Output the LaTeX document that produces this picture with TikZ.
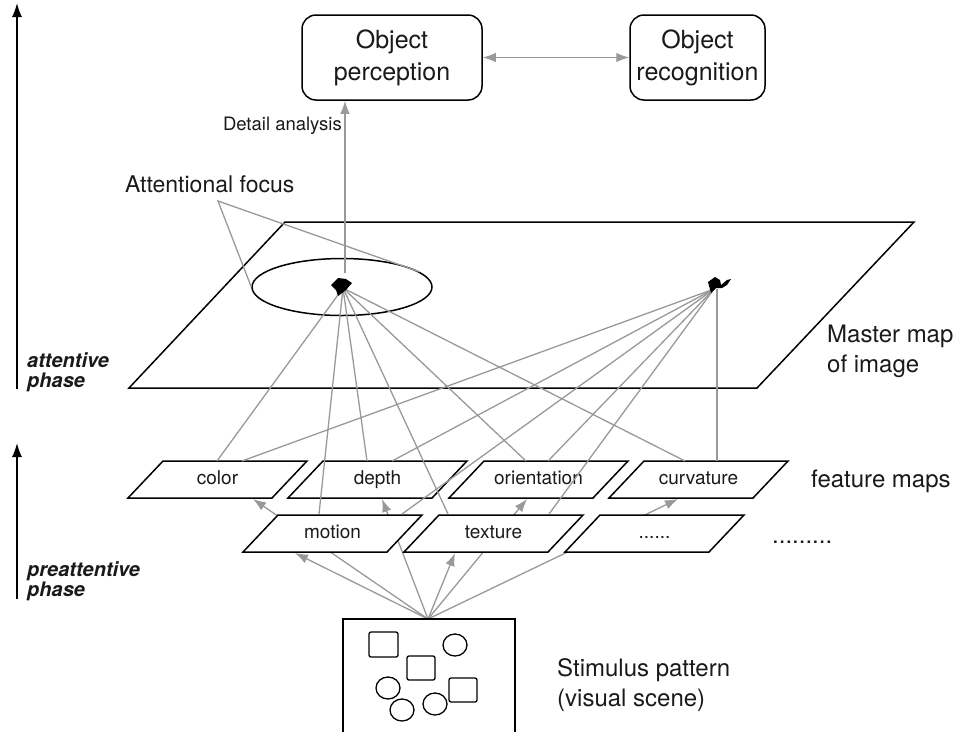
\documentclass[tikz,border=0pt]{standalone}
\usepackage{fontspec}
\setmainfont{TeX Gyre Heros}
\usetikzlibrary{arrows.meta,calc,shapes.geometric}
\definecolor{lgray}{HTML}{999999}
\definecolor{ink}{HTML}{1A1A1A}
\newcommand\fmapbox[4]{%
  \draw[boxline] (#2,#3) -- ++(144,0) -- ++(35,-37) -- ++(-144,0) -- cycle;
  \node[fmlabel] (#1) at (#2+89.5,#3-18.5) {#4};
}
\begin{document}
\begin{tikzpicture}[x=1pt,y=-1pt,
  gline/.style={draw=lgray,line width=1.3pt},
  gtip/.style={-{Latex[length=13pt,width=9.5pt]}},
  boxline/.style={draw=black,line width=1.5pt,fill=white,line join=miter},
  fmlabel/.style={font=\fontsize{19}{22}\selectfont,text=ink,inner sep=0pt,text height=13.7pt,text depth=4pt},
  bigtext/.style={font=\fontsize{24}{30}\selectfont,text=ink,inner sep=0pt,align=left},
  topbox/.style={draw=black,line width=1.5pt,rounded corners=14pt,font=\fontsize{25}{32}\selectfont,text=ink,align=center,inner sep=0pt,minimum height=85pt},
  phaselbl/.style={font=\fontsize{20}{20}\selectfont\bfseries\itshape,text=ink,inner sep=0pt,align=left},
  phasearrow/.style={draw=black,line width=1.6pt,-{Latex[length=14pt,width=10pt]}},
]
\useasboundingbox (0,0) rectangle (965,732);

% phase arrows and labels
\coordinate (attB) at (17,389);
\coordinate (attT) at (17,3);
\coordinate (preB) at (17,599);
\coordinate (preT) at (17,443);
\draw[phasearrow] (attB) -- (attT);
\draw[phasearrow] (preB) -- (preT);
\node[phaselbl,anchor=west] (attlbl) at (27,372) {attentive\\phase};
\node[phaselbl,anchor=west] (prelbl) at (27,581) {preattentive\\phase};

% top boxes
\node[topbox,minimum width=180pt] (percep) at (392,57.5) {Object\\perception};
\node[topbox,minimum width=135pt] (recog) at (697.5,57.5) {Object\\recognition};
\draw[gline,{Latex[length=13pt,width=9.5pt]}-{Latex[length=13pt,width=9.5pt]}] (percep.east) -- (recog.west);

% master map
\draw[boxline] (129,388) -- (757,388) -- (914,222) -- (285,222) -- cycle;
\node[bigtext,anchor=west] (mastlbl) at (827,351) {Master map\\of image};

% attentional focus ellipse
\node[draw=black,line width=1.5pt,ellipse,inner sep=0pt,minimum width=180pt,minimum height=57pt] (focus) at (342,287) {};
\node[font=\fontsize{23}{28}\selectfont,text=ink,inner sep=0pt,anchor=west] (aflbl) at (125,184) {Attentional focus};
\coordinate (afp) at (218,201);
\draw[gline] (focus.west) -- (afp) -- (focus.11);

% focus points
\coordinate (m1) at (343,288);
\coordinate (m2) at (714,289);
\coordinate (m2v) at (717,289);
\coordinate (m1top) at (345,273);

% detail analysis
\draw[gline,gtip] (m1top) -- (m1top |- percep.south);
\node[font=\fontsize{18.5}{22}\selectfont,text=ink,inner sep=0pt,anchor=east] (detlbl) at (342,126) {Detail analysis};

% feature map row 1
\fmapbox{color}{128}{498}{color}
\fmapbox{depth}{288}{498}{depth}
\fmapbox{orient}{449}{498}{orientation}
\fmapbox{curv}{609}{498}{curvature}

% line end points on row 1
\coordinate (colorA) at (217,461);
\coordinate (colorB) at (242,461);
\coordinate (depthA) at (367,461);
\coordinate (depthB) at (392,461);
\coordinate (orientA) at (526,461);
\coordinate (orientB) at (548,461);
\coordinate (curvA) at (685,461);
\coordinate (curvB) at (717,461);
\draw[gline] (colorA) -- (m1);
\draw[gline] (colorB) -- (m2);
\draw[gline] (depthA) -- (m1);
\draw[gline] (depthB) -- (m2);
\draw[gline] (orientA) -- (m1);
\draw[gline] (orientB) -- (m2);
\draw[gline] (curvA) -- (m1);
\draw[gline] (curvB) -- (m2v);

% stimulus
\coordinate (stim) at (428,619);
\coordinate (colorIn) at (253,499);
\coordinate (depthIn) at (382,499);
\coordinate (orientIn) at (527,499);
\coordinate (curvIn) at (678,499);
\coordinate (motionIn) at (295,553);
\coordinate (textureIn) at (455,553);
\draw[gline,gtip] (stim) -- (colorIn);
\draw[gline,gtip] (stim) -- (depthIn);
\draw[gline,gtip] (stim) -- (orientIn);
\draw[gline,gtip] (stim) -- (curvIn);

% feature map row 2
\fmapbox{motion}{243}{552}{motion}
\fmapbox{texture}{404}{552}{texture}
\fmapbox{more}{565}{552}{......}

\draw[gline,gtip] (stim) -- (motionIn);
\draw[gline,gtip] (stim) -- (textureIn);

\coordinate (motionA) at (319,514);
\coordinate (motionB) at (402,514);
\coordinate (textureA) at (448,514);
\coordinate (textureB) at (549,514);
\draw[gline] (motionA) -- (m1);
\draw[gline] (motionB) -- (m2);
\draw[gline] (textureA) -- (m1);
\draw[gline] (textureB) -- (m2);

% focus markers (clustered arrowheads)
\fill[black] (331,285) -- (338,278) -- (346,279) -- (352,283) -- (346,290) -- (338,296) -- (336,290) -- cycle;
\fill[black] (708,282) -- (715,277) -- (720,280) -- (721,285) -- (727,280) -- (731,279) -- (727,285) -- (722,288) -- (716,288) -- (711,293) -- cycle;

\node[bigtext,anchor=west] (fmlbl) at (811,481) {feature maps};
\node[font=\fontsize{24}{30}\selectfont,text=ink,inner sep=0pt,anchor=base west] (dots) at (772,543) {.........};

% stimulus box
\draw[draw=black,line width=1.5pt] (343,732) -- (343,619) -- (515,619) -- (515,732);
\draw[line width=1.3pt,rounded corners=2pt] (369,632) rectangle (398,657);
\draw[line width=1.3pt,rounded corners=2pt] (407,656) rectangle (435,680);
\draw[line width=1.3pt,rounded corners=2pt] (449,678) rectangle (477,702);
\draw[line width=1.3pt] (455,645) ellipse [x radius=12pt, y radius=11pt];
\draw[line width=1.3pt] (388,688) ellipse [x radius=12pt, y radius=11pt];
\draw[line width=1.3pt] (402,710) ellipse [x radius=12pt, y radius=11pt];
\draw[line width=1.3pt] (435,704) ellipse [x radius=12pt, y radius=11pt];
\node[bigtext,anchor=west] (stimlbl) at (557,685) {Stimulus pattern\\(visual scene)};
\end{tikzpicture}
\end{document}
